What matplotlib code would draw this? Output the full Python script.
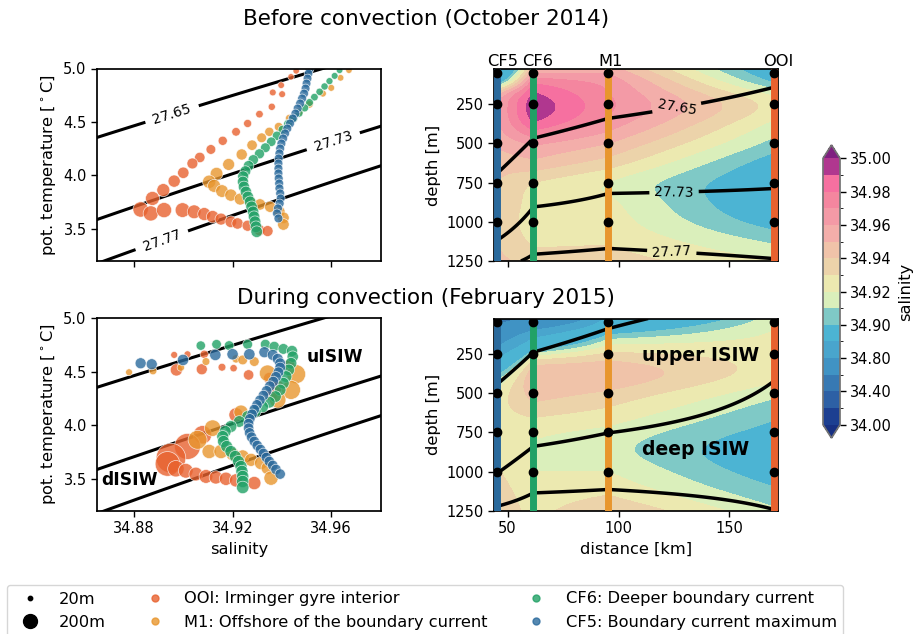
import numpy as np
import matplotlib
matplotlib.use("Agg")
import matplotlib.pyplot as plt
from matplotlib.colors import ListedColormap, BoundaryNorm
from matplotlib.lines import Line2D
import matplotlib.transforms as mtransforms

plt.rcParams["font.family"] = ["DejaVu Sans"]
plt.rcParams["axes.linewidth"] = 1.25
plt.rcParams["xtick.labelsize"] = 10.5
plt.rcParams["ytick.labelsize"] = 10.5
plt.rcParams["axes.labelsize"] = 11.7
plt.rcParams["xtick.major.width"] = 1.0
plt.rcParams["ytick.major.width"] = 1.0
plt.rcParams["xtick.major.size"] = 4
plt.rcParams["ytick.major.size"] = 4

# ── Moorings ──────────────────────────────────────────────────────────
moorings = ["CF5", "CF6", "M1", "OOI"]
mooring_dist = [45.3, 61.6, 95.4, 170.2]          # km
mooring_label_dist = [47.8, 63.7, 96.2, 172.0]    # where the names sit
mooring_colors = ["#2b6a9c", "#21a166", "#e8962e", "#e8622f"]
inst_depth = [50, 250, 500, 750, 1000]

# ── Section salinity at each mooring (values at node_depth) ───────────
node_depth = [25, 100, 175, 250, 375, 500, 625, 750, 875, 1000, 1125, 1250]

sal_oct_cf5 = [34.845, 34.880, 34.942, 34.958, 34.958, 34.952, 34.944, 34.940, 34.938, 34.937, 34.939, 34.943]
sal_oct_cf6 = [34.950, 34.975, 34.990, 34.997, 34.988, 34.962, 34.947, 34.930, 34.926, 34.925, 34.928, 34.935]
sal_oct_m1 = [34.955, 34.966, 34.970, 34.972, 34.965, 34.950, 34.935, 34.920, 34.922, 34.925, 34.929, 34.935]
sal_oct_ooi = [34.885, 34.897, 34.915, 34.925, 34.917, 34.906, 34.893, 34.887, 34.886, 34.894, 34.908, 34.920]

sal_feb_cf5 = [34.50, 34.70, 34.78, 34.83, 34.895, 34.922, 34.926, 34.925, 34.927, 34.931, 34.935, 34.938]
sal_feb_cf6 = [34.65, 34.80, 34.865, 34.912, 34.948, 34.945, 34.933, 34.922, 34.919, 34.920, 34.923, 34.926]
sal_feb_m1 = [34.86, 34.89, 34.915, 34.932, 34.948, 34.938, 34.927, 34.917, 34.914, 34.920, 34.928, 34.940]
sal_feb_ooi = [34.915, 34.920, 34.923, 34.925, 34.924, 34.913, 34.903, 34.895, 34.889, 34.893, 34.902, 34.912]

# ── Isopycnal depths at each mooring (CF5, CF6, M1, OOI) ──────────────
iso_levels = [27.65, 27.73, 27.77]
iso_oct_2765 = [691, 467, 340, 141]
iso_oct_2773 = [1118, 905, 819, 787]
iso_oct_2777 = [1300, 1207, 1170, 1235]
iso_feb_2765 = [443, 239, 89, -150]
iso_feb_2773 = [1010, 839, 753, 421]
iso_feb_2777 = [1220, 1135, 1113, 1241]

# ── T-S profiles: salinity, pot. temperature, layer thickness [m] ─────
oct_ooi_S = [34.9458, 34.9437, 34.9397, 34.9363, 34.9401, 34.9359, 34.9309, 34.9261, 34.9214, 34.9160,
             34.9112, 34.9067, 34.9037, 34.9000, 34.8963, 34.8919, 34.8875, 34.8827, 34.8868, 34.8922,
             34.8997, 34.9044, 34.9085, 34.9119, 34.9153, 34.9193, 34.9220, 34.9261, 34.9309, 34.9342]
oct_ooi_T = [4.978, 4.922, 4.844, 4.776, 4.760, 4.642, 4.573, 4.486, 4.408, 4.324,
             4.243, 4.168, 4.112, 4.025, 3.947, 3.863, 3.785, 3.682, 3.645, 3.676,
             3.676, 3.660, 3.639, 3.614, 3.592, 3.567, 3.551, 3.530, 3.489, 3.480]
oct_ooi_h = [30, 30, 32, 34, 34, 38, 42, 48, 55, 62, 70, 80, 88, 96, 110, 125, 145, 175, 170, 170,
             160, 140, 125, 115, 105, 100, 95, 90, 90, 88]

oct_m1_S = [34.9672, 34.9638, 34.9600, 34.9566, 34.9512, 34.9471, 34.9431, 34.9387, 34.9349, 34.9318,
            34.9279, 34.9237, 34.9184, 34.9135, 34.9105, 34.9125, 34.9157, 34.9193, 34.9231, 34.9271,
            34.9311, 34.9352, 34.9390, 34.9406, 34.9406]
oct_m1_T = [4.984, 4.913, 4.819, 4.766, 4.664, 4.595, 4.533, 4.455, 4.408, 4.352,
            4.283, 4.196, 4.103, 4.016, 3.941, 3.903, 3.854, 3.816, 3.779, 3.754,
            3.729, 3.707, 3.660, 3.604, 3.542]
oct_m1_h = [30, 32, 34, 36, 40, 44, 50, 56, 62, 70, 80, 92, 105, 120, 130, 125, 118, 110, 105, 100,
            95, 92, 95, 100, 100]

oct_cf6_S = [34.9634, 34.9614, 34.9593, 34.9573, 34.9553, 34.9532, 34.9512, 34.9492, 34.9469, 34.9447,
             34.9425, 34.9403, 34.9380, 34.9357, 34.9333, 34.9309, 34.9284, 34.9265, 34.9252, 34.9243,
             34.9242, 34.9246, 34.9254, 34.9262, 34.9271, 34.9277, 34.9283, 34.9287, 34.9291, 34.9295,
             34.9298]
oct_cf6_T = [4.984, 4.931, 4.882, 4.832, 4.782, 4.732, 4.682, 4.632, 4.583, 4.533,
             4.483, 4.427, 4.371, 4.315, 4.259, 4.202, 4.146, 4.090, 4.040, 3.991,
             3.941, 3.894, 3.847, 3.800, 3.754, 3.707, 3.660, 3.614, 3.567, 3.520,
             3.474]
oct_cf6_h = [32, 34, 36, 38, 40, 42, 45, 48, 50, 53, 56, 60, 63, 66, 70, 74, 78, 82, 86, 90,
             92, 94, 95, 96, 97, 98, 98, 99, 100, 100, 100]

oct_cf5_S = [34.9512, 34.9508, 34.9504, 34.9500, 34.9496, 34.9490, 34.9482, 34.9474, 34.9464, 34.9455,
             34.9444, 34.9433, 34.9422, 34.9413, 34.9405, 34.9398, 34.9393, 34.9390, 34.9387, 34.9386,
             34.9386, 34.9386, 34.9387, 34.9389, 34.9390, 34.9393, 34.9395, 34.9391, 34.9384, 34.9380,
             34.9386]
oct_cf5_T = [4.994, 4.953, 4.907, 4.860, 4.813, 4.766, 4.720, 4.673, 4.626, 4.579,
             4.533, 4.486, 4.439, 4.393, 4.346, 4.299, 4.252, 4.206, 4.159, 4.112,
             4.065, 4.019, 3.972, 3.925, 3.879, 3.832, 3.785, 3.738, 3.692, 3.645,
             3.598]
oct_cf5_h = [55, 55, 56, 56, 57, 57, 58, 58, 58, 58, 58, 58, 58, 58, 58, 58, 58, 58, 58, 58,
             58, 58, 58, 58, 58, 58, 58, 58, 58, 58, 58]

feb_ooi_S = [34.8963, 34.9017, 34.8972, 34.9085, 34.9075, 34.9157, 34.9204, 34.9265, 34.9349, 34.9430,
             34.9383, 34.9356, 34.9214, 34.9078, 34.9017, 34.8950, 34.8936, 34.8970, 34.9010, 34.9051,
             34.9092, 34.9132, 34.9173, 34.9214, 34.9288]
feb_ooi_T = [4.658, 4.664, 4.518, 4.664, 4.524, 4.543, 4.534, 4.471, 4.440, 4.565,
             4.363, 4.285, 4.098, 3.912, 3.803, 3.694, 3.640, 3.595, 3.576, 3.545,
             3.523, 3.514, 3.501, 3.486, 3.461]
feb_ooi_h = [35, 35, 110, 50, 90, 45, 40, 80, 100, 90, 110, 110, 150, 250, 500, 650, 450, 200, 160, 140,
             140, 130, 130, 130, 130]

feb_m1_S = [34.8780, 34.8877, 34.8990, 34.9092, 34.9214, 34.9241, 34.9288, 34.9342, 34.9458, 34.9437,
            34.9383, 34.9234, 34.9119, 34.9058, 34.9105, 34.9153, 34.9200, 34.9241, 34.9275, 34.9315,
            34.9342, 34.9356]
feb_m1_T = [4.496, 4.509, 4.540, 4.596, 4.621, 4.611, 4.596, 4.487, 4.478, 4.331,
            4.238, 4.123, 3.974, 3.865, 3.756, 3.756, 3.731, 3.710, 3.678, 3.647,
            3.601, 3.507]
feb_m1_h = [35, 45, 40, 45, 50, 70, 70, 200, 265, 265, 200, 150, 200, 265, 150, 150, 125, 125, 125, 125,
            125, 150]

feb_cf6_S = [34.9071, 34.9135, 34.9186, 34.9261, 34.9333, 34.9369, 34.9406, 34.9441, 34.9444, 34.9437,
             34.9428, 34.9417, 34.9406, 34.9393, 34.9374, 34.9349, 34.9322, 34.9292, 34.9261, 34.9227,
             34.9193, 34.9170, 34.9160, 34.9163, 34.9176, 34.9193, 34.9211, 34.9224, 34.9234, 34.9238,
             34.9241, 34.9241, 34.9241]
feb_cf6_T = [4.745, 4.757, 4.745, 4.757, 4.757, 4.736, 4.714, 4.695, 4.642, 4.580,
             4.518, 4.456, 4.394, 4.331, 4.269, 4.216, 4.173, 4.129, 4.083, 4.036,
             3.989, 3.943, 3.896, 3.850, 3.803, 3.756, 3.710, 3.663, 3.616, 3.570,
             3.523, 3.476, 3.420]
feb_cf6_h = [65, 68, 70, 72, 75, 80, 85, 90, 95, 100, 100, 100, 100, 100, 100, 100, 100, 100, 100, 100,
             105, 105, 105, 105, 105, 105, 105, 105, 108, 110, 110, 112, 115]

feb_cf5_S = [34.8827, 34.8872, 34.8999, 34.9130, 34.9200, 34.9268, 34.9329, 34.9363, 34.9383, 34.9393,
             34.9393, 34.9386, 34.9376, 34.9365, 34.9351, 34.9338, 34.9325, 34.9311, 34.9299, 34.9288,
             34.9279, 34.9270, 34.9265, 34.9265, 34.9269, 34.9277, 34.9288, 34.9300, 34.9313, 34.9325,
             34.9337, 34.9349, 34.9363, 34.9376, 34.9393]
feb_cf5_T = [4.580, 4.571, 4.611, 4.658, 4.664, 4.664, 4.683, 4.658, 4.621, 4.580,
             4.540, 4.496, 4.453, 4.409, 4.366, 4.322, 4.279, 4.235, 4.192, 4.148,
             4.104, 4.061, 4.017, 3.974, 3.930, 3.890, 3.850, 3.812, 3.775, 3.738,
             3.700, 3.663, 3.626, 3.588, 3.545]
feb_cf5_h = [90, 90, 95, 95, 95, 95, 90, 90, 88, 86, 85, 84, 84, 83, 82, 82, 81, 80, 80, 80,
             80, 80, 80, 80, 80, 80, 80, 80, 80, 80, 80, 80, 80, 80, 80]

# ── Salinity colour scale ─────────────────────────────────────────────
sal_levels = [34.0, 34.2, 34.4, 34.6, 34.8, 34.85, 34.9, 34.91, 34.92, 34.93,
              34.94, 34.95, 34.96, 34.97, 34.98, 34.99, 35.0]
sal_colors = ["#1c3f91", "#2d60a5", "#3779b3", "#4093c4", "#49a5cd", "#4cb4d3",
              "#7fc9c6", "#daefbb", "#ece9b0", "#ecd3aa", "#f0c3a9", "#f3aeaa",
              "#f39aa6", "#f4869f", "#f670a0", "#b0378f"]
sal_under = "#173082"
sal_over = "#7f1f80"

size_scale = 0.5      # legend marker area (pt^2) per metre
ts_size_scale = 0.7   # same, for the T-S scatter
sig_offset = 0.009    # EOS-80 sigma0 -> TEOS-10 sigma0 around these water masses

# ── Helpers ───────────────────────────────────────────────────────────

def natural_spline(xk, yk, xq):
    xk = np.asarray(xk, float); yk = np.asarray(yk, float); xq = np.asarray(xq, float)
    n = len(xk); h = np.diff(xk)
    A = np.zeros((n, n)); rhs = np.zeros(n)
    A[0, 0] = A[-1, -1] = 1.0
    for i in range(1, n - 1):
        A[i, i - 1] = h[i - 1]; A[i, i] = 2 * (h[i - 1] + h[i]); A[i, i + 1] = h[i]
        rhs[i] = 6 * ((yk[i + 1] - yk[i]) / h[i] - (yk[i] - yk[i - 1]) / h[i - 1])
    m = np.linalg.solve(A, rhs)
    j = np.clip(np.searchsorted(xk, xq) - 1, 0, n - 2)
    hj = h[j]
    a = (xk[j + 1] - xq) / hj
    b = (xq - xk[j]) / hj
    return a * yk[j] + b * yk[j + 1] + ((a**3 - a) * m[j] + (b**3 - b) * m[j + 1]) * hj**2 / 6


def sigma0(S, T):
    """UNESCO 1981 density at p=0, minus 1000."""
    rw = (999.842594 + 6.793952e-2 * T - 9.095290e-3 * T**2 + 1.001685e-4 * T**3
          - 1.120083e-6 * T**4 + 6.536332e-9 * T**5)
    A = 8.24493e-1 - 4.0899e-3 * T + 7.6438e-5 * T**2 - 8.2467e-7 * T**3 + 5.3875e-9 * T**4
    B = -5.72466e-3 + 1.0227e-4 * T - 1.6546e-6 * T**2
    return rw + A * S + B * S**1.5 + 4.8314e-4 * S**2 - 1000.0


def sigma_profile(depths, zg):
    d1, d2, d3 = depths
    g1 = (iso_levels[1] - iso_levels[0]) / (d2 - d1)
    g2 = (iso_levels[2] - iso_levels[1]) / (d3 - d2)
    zp = [d1 - 3000, d1, d2, d3, d3 + 3000]
    sp = [iso_levels[0] - 3000 * g1, iso_levels[0], iso_levels[1], iso_levels[2], iso_levels[2] + 3000 * g2]
    return np.interp(zg, zp, sp)


cmap = ListedColormap(sal_colors)
cmap.set_under(sal_under)
cmap.set_over(sal_over)
norm = BoundaryNorm(sal_levels, ncolors=len(sal_colors))


def ts_panel(ax, profiles, manual=None):
    SS, TT = np.meshgrid(np.linspace(34.86, 34.99, 200), np.linspace(3.1, 5.1, 200))
    cs = ax.contour(SS, TT, sigma0(SS, TT) + sig_offset, levels=iso_levels,
                    colors="k", linewidths=2.2, zorder=1)
    if manual is not None:
        ax.clabel(cs, fmt="%.2f", fontsize=10, inline=True, manual=manual)
    for S, T, h, c in profiles:
        ax.scatter(S, T, s=np.asarray(h) * ts_size_scale, color=c, alpha=0.8,
                   edgecolors="w", linewidths=0.5, zorder=2)
    ax.set_xlim(34.865, 34.98)
    ax.set_ylim(3.2, 5.0)
    ax.set_xticks([34.88, 34.92, 34.96])
    ax.set_yticks([3.5, 4.0, 4.5, 5.0])
    ax.set_ylabel(r"pot. temperature [$^\circ$C]")


def section_panel(ax, sal_profiles, iso_depths, manual=None):
    zg = np.linspace(25, 1250, 260)
    xg = np.linspace(44, 172, 320)
    cols = np.array([natural_spline(node_depth, p, zg) for p in sal_profiles])
    sal = np.array([np.interp(xg, mooring_dist, cols[:, k]) for k in range(len(zg))])
    sig_cols = np.array([sigma_profile(d, zg) for d in zip(*iso_depths)])
    sig = np.array([np.interp(xg, mooring_dist, sig_cols[:, k]) for k in range(len(zg))])
    cf = ax.contourf(xg, zg, sal, levels=sal_levels, cmap=cmap, norm=norm, extend="both", zorder=0)
    cs = ax.contour(xg, zg, sig, levels=iso_levels, colors="k", linewidths=2.5, zorder=2)
    if manual is not None:
        ax.clabel(cs, fmt="%.2f", fontsize=10, inline=True, manual=manual)
    for x, c in zip(mooring_dist, mooring_colors):
        ax.plot([x, x], [25, 1250], color=c, lw=5, zorder=3, solid_capstyle="butt")
        ax.plot([x] * len(inst_depth), inst_depth, "o", color="k", ms=6, zorder=4)
    ax.set_xlim(44, 172)
    ax.set_ylim(1250, 25)
    ax.set_xticks([50, 100, 150])
    ax.set_yticks([250, 500, 750, 1000, 1250])
    ax.set_ylabel("depth [m]")
    return cf


# ── Figure ────────────────────────────────────────────────────────────
W, H = 923, 634
fig = plt.figure(figsize=(W / 100, H / 100), dpi=100)


def px_axes(x0, y0, x1, y1):
    return fig.add_axes([x0 / W, 1 - y1 / H, (x1 - x0) / W, (y1 - y0) / H])


ax_ts1 = px_axes(97, 68.5, 380.5, 261)
ax_sec1 = px_axes(494.3, 69, 778.3, 261)
ax_ts2 = px_axes(97, 318.3, 380.5, 511)
ax_sec2 = px_axes(494.3, 318.5, 778.3, 511)
cax = px_axes(823, 145, 840, 438)

ts_panel(ax_ts1,
         [(oct_ooi_S, oct_ooi_T, oct_ooi_h, mooring_colors[3]),
          (oct_m1_S, oct_m1_T, oct_m1_h, mooring_colors[2]),
          (oct_cf6_S, oct_cf6_T, oct_cf6_h, mooring_colors[1]),
          (oct_cf5_S, oct_cf5_T, oct_cf5_h, mooring_colors[0])],
         manual=[(34.8956, 4.564), (34.9607, 4.33), (34.8915, 3.38)])
ax_ts1.set_xticklabels([])

ts_panel(ax_ts2,
         [(feb_ooi_S, feb_ooi_T, feb_ooi_h, mooring_colors[3]),
          (feb_m1_S, feb_m1_T, feb_m1_h, mooring_colors[2]),
          (feb_cf6_S, feb_cf6_T, feb_cf6_h, mooring_colors[1]),
          (feb_cf5_S, feb_cf5_T, feb_cf5_h, mooring_colors[0])])
ax_ts2.set_xlabel("salinity")
ax_ts2.text(34.9616, 4.64, "uISIW", fontsize=12.3, fontweight="bold", ha="center", va="center")
ax_ts2.text(34.878, 3.49, "dISIW", fontsize=12.3, fontweight="bold", ha="center", va="center")

cf = section_panel(ax_sec1, [sal_oct_cf5, sal_oct_cf6, sal_oct_m1, sal_oct_ooi],
                   [iso_oct_2765, iso_oct_2773, iso_oct_2777],
                   manual=[(126, 254), (125, 805), (124, 1188)])
ax_sec1.set_xticklabels([])
trans = mtransforms.blended_transform_factory(ax_sec1.transData, ax_sec1.transAxes)
for name, x in zip(moorings, mooring_label_dist):
    ax_sec1.text(x, 1.0, name, transform=trans, ha="center", va="bottom", fontsize=11.7)

section_panel(ax_sec2, [sal_feb_cf5, sal_feb_cf6, sal_feb_m1, sal_feb_ooi],
              [iso_feb_2765, iso_feb_2773, iso_feb_2777])
ax_sec2.set_xlabel("distance [km]")
ax_sec2.text(136.8, 261, "upper ISIW", fontsize=13.5, fontweight="bold", ha="center", va="center")
ax_sec2.text(134.5, 860, "deep ISIW", fontsize=13.5, fontweight="bold", ha="center", va="center")

cb = fig.colorbar(cf, cax=cax, ticks=sal_levels[::2], extend="both")
cb.ax.set_yticklabels([f"{v:.2f}" for v in sal_levels[::2]])
cb.ax.tick_params(labelsize=10.5)
cb.outline.set_edgecolor("0.45")
cb.set_label("salinity", fontsize=11.7)

fig.text(426 / W, 1 - 19 / H, "Before convection (October 2014)", ha="center", va="center", fontsize=15.5)
fig.text(426 / W, 1 - 298 / H, "During convection (February 2015)", ha="center", va="center", fontsize=15.5)

legend_names = ["OOI: Irminger gyre interior", "M1: Offshore of the boundary current",
                "CF6: Deeper boundary current", "CF5: Boundary current maximum"]
legend_cols = [mooring_colors[3], mooring_colors[2], mooring_colors[1], mooring_colors[0]]
handles = [Line2D([], [], ls="none", marker="o", color="k", ms=np.sqrt(20 * size_scale)),
           Line2D([], [], ls="none", marker="o", color="k", ms=np.sqrt(200 * size_scale))]
handles += [Line2D([], [], ls="none", marker="o", color=c, alpha=0.8, ms=5) for c in legend_cols]
labels = ["20m", "200m"] + legend_names
fig.legend(handles, labels, ncol=3, loc="upper left", bbox_to_anchor=(7 / W, 1 - 585 / H),
           borderaxespad=0, fontsize=11.7, frameon=True, edgecolor="#cccccc")

fig.savefig("out.png", dpi=100)
